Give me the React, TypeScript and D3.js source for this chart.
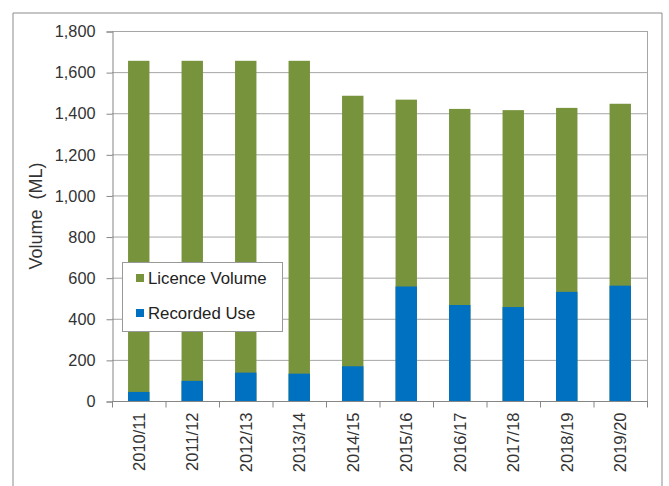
import * as d3 from "d3";
import { useEffect, useRef } from "react";

const years = [
  "2010/11",
  "2011/12",
  "2012/13",
  "2013/14",
  "2014/15",
  "2015/16",
  "2016/17",
  "2017/18",
  "2018/19",
  "2019/20",
];
const licenceVolume = [1655, 1655, 1655, 1655, 1485, 1466, 1421, 1415, 1426, 1446];
const recordedUse = [44, 98, 138, 133, 169, 557, 467, 457, 531, 561];
const yTicks = [0, 200, 400, 600, 800, 1000, 1200, 1400, 1600, 1800];

const GREEN = "#77933c";
const BLUE = "#0070c0";

export default function App() {
  const svgRef = useRef<SVGSVGElement>(null);

  useEffect(() => {
    if (!svgRef.current) return;
    const svg = d3.select(svgRef.current);
    svg.selectAll("*").remove();

    const left = 112;
    const right = 647;
    const top = 31;
    const bottom = 401;
    const font = "'Liberation Sans', Arial, sans-serif";
    const textColor = "#333";

    // outer frame (cut off at bottom)
    svg
      .append("path")
      .attr("d", "M13,490 V13 H662 V490")
      .attr("fill", "none")
      .attr("stroke", "#8c8c8c")
      .attr("stroke-width", 1);

    const x = d3
      .scaleBand()
      .domain(years)
      .range([left, right])
      .paddingInner(0.6)
      .paddingOuter(0.3);
    const y = d3.scaleLinear().domain([0, 1800]).range([bottom, top]);

    // gridlines
    svg
      .append("g")
      .selectAll("line")
      .data(yTicks.filter((t) => t > 0))
      .enter()
      .append("line")
      .attr("x1", left)
      .attr("x2", right)
      .attr("y1", (d) => y(d) + 0.5)
      .attr("y2", (d) => y(d) + 0.5)
      .attr("stroke", "#a6a6a6")
      .attr("stroke-width", 1);

    // right plot edge
    svg
      .append("line")
      .attr("x1", right + 0.5)
      .attr("x2", right + 0.5)
      .attr("y1", top)
      .attr("y2", bottom)
      .attr("stroke", "#a6a6a6");

    // bars: licence volume (total), recorded use drawn over it from zero
    const bars = svg.append("g");
    bars
      .selectAll(".lic")
      .data(years)
      .enter()
      .append("rect")
      .attr("class", "lic")
      .attr("x", (d) => x(d)!)
      .attr("width", x.bandwidth())
      .attr("y", (_, i) => y(licenceVolume[i]))
      .attr("height", (_, i) => y(0) - y(licenceVolume[i]))
      .attr("fill", GREEN);
    bars
      .selectAll(".rec")
      .data(years)
      .enter()
      .append("rect")
      .attr("class", "rec")
      .attr("x", (d) => x(d)!)
      .attr("width", x.bandwidth())
      .attr("y", (_, i) => y(recordedUse[i]))
      .attr("height", (_, i) => y(0) - y(recordedUse[i]))
      .attr("fill", BLUE);

    // y axis
    const yAxis = svg
      .append("g")
      .attr("transform", `translate(${left + 0.5},0.5)`)
      .call(
        d3
          .axisLeft(y)
          .tickValues(yTicks)
          .tickSize(6)
          .tickPadding(11)
          .tickFormat((d) => d3.format(",")(d as number)),
      );
    yAxis.select(".domain").attr("stroke", "#868686");
    yAxis.selectAll(".tick line").attr("stroke", "#868686");
    yAxis
      .selectAll(".tick text")
      .attr("fill", textColor)
      .style("font-family", font)
      .style("font-size", "16.3px");

    // x axis
    const xAxisG = svg.append("g").attr("transform", `translate(0,${bottom + 0.5})`);
    xAxisG
      .append("line")
      .attr("x1", left)
      .attr("x2", right + 1)
      .attr("stroke", "#868686");
    const step = x.step();
    xAxisG
      .selectAll(".xt")
      .data(d3.range(years.length + 1))
      .enter()
      .append("line")
      .attr("x1", (i) => left + i * step + 0.5)
      .attr("x2", (i) => left + i * step + 0.5)
      .attr("y1", 0)
      .attr("y2", 6)
      .attr("stroke", "#868686");
    xAxisG
      .selectAll(".xl")
      .data(years)
      .enter()
      .append("text")
      .attr(
        "transform",
        (d) => `translate(${x(d)! + x.bandwidth() / 2},11) rotate(-90)`,
      )
      .attr("text-anchor", "end")
      .attr("dy", "0.35em")
      .attr("fill", textColor)
      .style("font-family", font)
      .style("font-size", "16.5px")
      .text((d) => d);

    // y axis title
    svg
      .append("text")
      .attr("transform", `translate(36,216) rotate(-90)`)
      .attr("text-anchor", "middle")
      .attr("dy", "0.35em")
      .attr("fill", textColor)
      .style("font-family", font)
      .style("font-size", "18px")
      .style("white-space", "pre")
      .text("Volume  (ML)");

    // legend
    const legend = svg.append("g");
    legend
      .append("rect")
      .attr("x", 122.5)
      .attr("y", 262.5)
      .attr("width", 160)
      .attr("height", 69)
      .attr("fill", "#fff")
      .attr("stroke", "#999");
    const items = [
      { label: "Licence Volume", color: GREEN, cy: 278 },
      { label: "Recorded Use", color: BLUE, cy: 313 },
    ];
    items.forEach((it) => {
      legend
        .append("rect")
        .attr("x", 136)
        .attr("y", it.cy - 4)
        .attr("width", 8)
        .attr("height", 8)
        .attr("fill", it.color);
      legend
        .append("text")
        .attr("x", 148)
        .attr("y", it.cy)
        .attr("dy", "0.35em")
        .attr("fill", "#222")
        .style("font-family", font)
        .style("font-size", "16.8px")
        .text(it.label);
    });
  }, []);

  return (
    <svg
      ref={svgRef}
      width={669}
      height={486}
      style={{ position: "absolute", left: 0, top: 0, background: "#fff" }}
    />
  );
}
